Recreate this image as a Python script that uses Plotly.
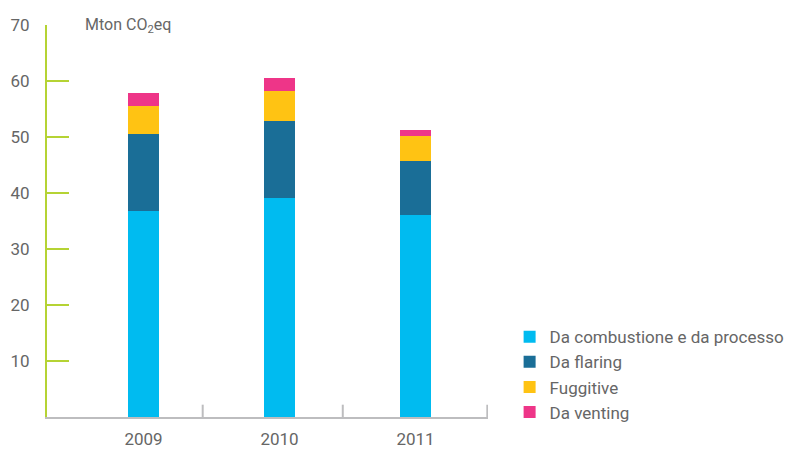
import plotly.graph_objects as go

# Emissioni di gas serra per fonte (Mton CO2eq)
years = ["2009", "2010", "2011"]
combustione = [36.7, 39.1, 36.1]
flaring = [13.9, 13.7, 9.6]
fuggitive = [5.0, 5.5, 4.5]
venting = [2.3, 2.3, 1.1]

series = [
    ("Da combustione e da processo", combustione, "#00BBF0"),
    ("Da flaring", flaring, "#1A6E97"),
    ("Fuggitive", fuggitive, "#FFC313"),
    ("Da venting", venting, "#EE3588"),
]

y_ticks = [10, 20, 30, 40, 50, 60, 70]

FONT = "Roboto"
GREY_TEXT = "#666666"
GREEN = "#B5D334"
GREY_LINE = "#BDBDBF"

fig = go.Figure()
for name, vals, color in series:
    fig.add_trace(go.Bar(
        x=years, y=vals, name=name, width=0.23,
        legendgroup=name,
        marker=dict(color=color, line=dict(width=0)),
    ))

fig.update_layout(
    width=795, height=451,
    barmode="stack",
    plot_bgcolor="white", paper_bgcolor="white",
    margin=dict(l=47, r=307, t=25, b=34, autoexpand=False),
    font=dict(family=FONT, color=GREY_TEXT, size=16),
    legend=dict(
        traceorder="normal",
        x=1.049, xanchor="left", y=0.108, yanchor="middle",
        font=dict(size=17, color=GREY_TEXT),
        itemwidth=30, tracegroupgap=2,
    ),
    showlegend=True,
)

fig.update_xaxes(
    type="category",
    range=[-0.71, 2.533],
    automargin=False,
    showline=True, linecolor=GREY_LINE, linewidth=2,
    showgrid=False, zeroline=False, ticks="",
    tickfont=dict(size=17, color=GREY_TEXT),
    ticklabelstandoff=6,
)

fig.update_yaxes(
    range=[0, 70],
    tickvals=y_ticks,
    automargin=False,
    showline=True, linecolor=GREEN, linewidth=2,
    ticks="inside", ticklen=22, tickwidth=2, tickcolor=GREEN,
    showgrid=False, zeroline=False,
    tickfont=dict(size=17, color=GREY_TEXT),
    ticklabelstandoff=12,
)

# short upward separators on the baseline
for xs in [0.435, 1.465, 2.528]:
    fig.add_shape(type="line", xref="x", yref="y",
                  x0=xs, x1=xs, y0=0, y1=2.2,
                  line=dict(color=GREY_LINE, width=2))

fig.add_annotation(
    text="Mton CO<sub>2</sub>eq",
    xref="paper", yref="paper", x=0.081, y=1.0,
    xanchor="left", yanchor="middle", showarrow=False,
    font=dict(size=16, color=GREY_TEXT, family=FONT),
)

fig.write_html("out.html")
